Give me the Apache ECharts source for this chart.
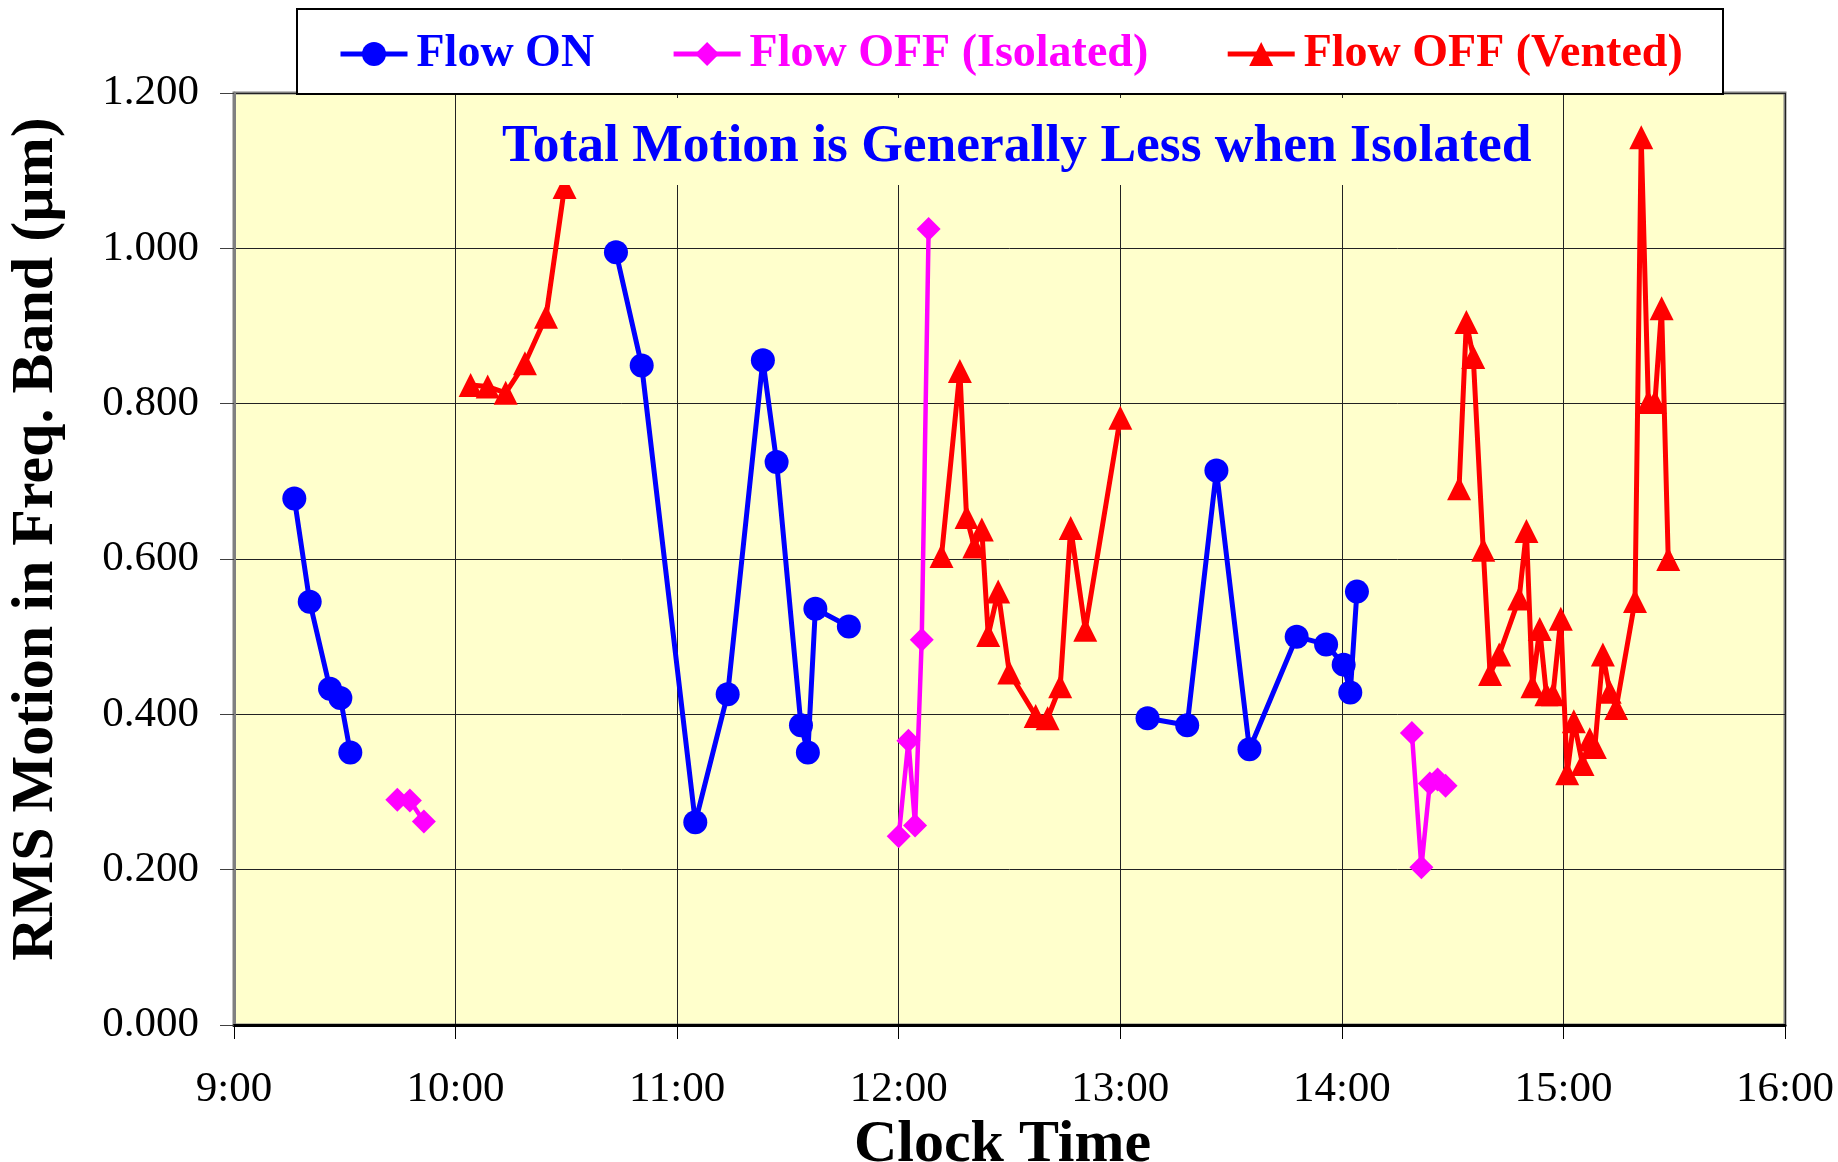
<!DOCTYPE html>
<html>
<head>
<meta charset="utf-8">
<script src="https://cdn.jsdelivr.net/npm/echarts@6/dist/echarts.min.js"></script>
<style>
html,body{margin:0;padding:0;background:#fff;}
#chart{width:1838px;height:1162px;}
</style>
</head>
<body>
<div id="chart"></div>
<script>
// ---- DATA (null marks a break in the line) ----
const xTickLabels = ['9:00','10:00','11:00','12:00','13:00','14:00','15:00','16:00'];
const yTickLabels = ['0.000','0.200','0.400','0.600','0.800','1.000','1.200'];

const flowOnTimes = ['9:16:20','9:20:30','9:26:00','9:28:48','9:31:30', null,
  '10:43:26','10:50:24','11:04:55','11:13:41','11:23:13','11:26:56','11:33:32','11:35:24','11:37:26','11:46:30', null,
  '13:07:23','13:18:07','13:26:02','13:34:59','13:47:46','13:55:44','14:00:29','14:02:17','14:04:05'];
const flowOnValues = [0.678,0.545,0.433,0.421,0.351, null,
  0.995,0.849,0.261,0.426,0.856,0.725,0.386,0.351,0.536,0.513, null,
  0.395,0.386,0.714,0.355,0.500,0.490,0.464,0.428,0.558];

const isolatedTimes = ['9:44:13','9:47:38','9:51:25', null,
  '12:00:00','12:02:38','12:04:26','12:06:14','12:08:06', null,
  '14:18:58','14:21:32','14:23:49','14:25:55','14:28:05'];
const isolatedValues = [0.290,0.289,0.262, null,
  0.243,0.366,0.257,0.496,1.025, null,
  0.376,0.203,0.311,0.316,0.308];

const ventedTimes = ['10:04:05','10:08:42','10:13:34','10:18:47','10:24:29','10:29:31', null,
  '12:11:35','12:16:34','12:18:22','12:20:28','12:22:30','12:24:14','12:26:56','12:29:56','12:37:05','12:40:19','12:43:44','12:46:34','12:50:31','13:00:00', null,
  '14:31:44','14:33:43','14:35:35','14:38:17','14:40:08','14:42:36','14:48:00','14:49:59','14:51:36','14:53:35','14:55:23','14:57:11','14:59:17',
  '15:01:01','15:02:49','15:05:10','15:07:08','15:08:31','15:10:41','15:12:32','15:14:17','15:19:23','15:21:04','15:22:59','15:24:47','15:26:35','15:28:23'];
const ventedValues = [0.824,0.822,0.814,0.852,0.912,1.079, null,
  0.604,0.842,0.654,0.616,0.638,0.502,0.558,0.454,0.398,0.395,0.436,0.640,0.509,0.782, null,
  0.691,0.905,0.860,0.612,0.452,0.477,0.549,0.636,0.436,0.510,0.426,0.426,0.523,
  0.324,0.391,0.336,0.368,0.358,0.477,0.429,0.408,0.546,1.143,0.802,0.802,0.923,0.600];

// ---- helpers ----
function toHours(s){
  const p = s.split(':').map(Number);
  return p[0] + p[1]/60 + (p[2]||0)/3600;
}
function buildData(times, values){
  return times.map((t,i) => (t === null || values[i] === null) ? ['-','-'] : [toHours(t), values[i]]);
}
const FONT = "'Liberation Serif','Times New Roman',serif";

const chart = echarts.init(document.getElementById('chart'), null, {renderer:'canvas'});
const option = {
  animation: false,
  backgroundColor: '#ffffff',
  title: {
    text: 'Total Motion is Generally Less when Isolated',
    left: 490, top: 98,
    padding: [22, 12, 11, 12],
    backgroundColor: '#FFFFCC',
    z: 6,
    textStyle: {fontFamily: FONT, fontSize: 53.5, fontWeight: 'bold', color: '#0000FF'}
  },
  graphic: [{
    type: 'rect', z: 5,
    shape: {x: 297, y: 9, width: 1426, height: 85},
    style: {fill: '#ffffff', stroke: '#000000', lineWidth: 2}
  }],
  legend: {
    left: 338, top: 31, z: 7,
    padding: 0,
    itemGap: 77,
    itemWidth: 67, itemHeight: 30,
    lineStyle: {width: 5},
    textStyle: {fontFamily: FONT, fontSize: 46, fontWeight: 'bold', padding: [0,0,0,4]},
    data: ['Flow ON','Flow OFF (Isolated)','Flow OFF (Vented)']
  },
  grid: {
    left: 234, right: 53, top: 93, bottom: 137,
    outerBoundsMode: 'none',
    containLabel: false,
    show: true, backgroundColor: '#FFFFCC', borderColor: '#808080', borderWidth: 3
  },
  xAxis: {
    type: 'value', min: 9, max: 16, interval: 1,
    name: 'Clock Time', nameLocation: 'middle', nameGap: 65,
    nameTextStyle: {fontFamily: FONT, fontSize: 60, fontWeight: 'bold', color: '#000', padding: [0,14,0,0]},
    axisLine: {show: true, onZero: false, lineStyle: {color: '#000', width: 3}},
    axisTick: {show: true, inside: false, length: 14, lineStyle: {color: '#000', width: 1}},
    axisLabel: {margin: 43, fontFamily: FONT, fontSize: 43, color: '#000',
      formatter: v => xTickLabels[Math.round(v - 9)]},
    splitLine: {show: true, lineStyle: {color: '#222', width: 1}}
  },
  yAxis: {
    type: 'value', min: 0, max: 1.2, interval: 0.2,
    name: 'RMS Motion in Freq. Band (µm)', nameLocation: 'middle', nameGap: 168,
    nameTextStyle: {fontFamily: FONT, fontSize: 60, fontWeight: 'bold', color: '#000', padding: [0,0,0,40]},
    axisLine: {show: true, lineStyle: {color: '#808080', width: 3}},
    axisTick: {show: true, inside: false, length: 14, lineStyle: {color: '#404040', width: 1}},
    axisLabel: {margin: 35, fontFamily: FONT, fontSize: 43, color: '#000',
      formatter: v => yTickLabels[Math.round(v / 0.2)]},
    splitLine: {show: true, lineStyle: {color: '#222', width: 1}}
  },
  series: [
    {
      name: 'Flow ON', type: 'line', data: buildData(flowOnTimes, flowOnValues),
      symbol: 'circle', symbolSize: 24, connectNulls: false,
      itemStyle: {color: '#0000FF'}, lineStyle: {color: '#0000FF', width: 5}
    },
    {
      name: 'Flow OFF (Isolated)', type: 'line', data: buildData(isolatedTimes, isolatedValues),
      symbol: 'diamond', symbolSize: 24, connectNulls: false,
      itemStyle: {color: '#FF00FF'}, lineStyle: {color: '#FF00FF', width: 4.5}
    },
    {
      name: 'Flow OFF (Vented)', type: 'line', data: buildData(ventedTimes, ventedValues),
      symbol: 'triangle', symbolSize: 24, connectNulls: false,
      itemStyle: {color: '#FF0000'}, lineStyle: {color: '#FF0000', width: 5}
    }
  ]
};
// legend text colours match each series
option.legend.data = option.series.map(s => ({name: s.name, textStyle: {color: s.itemStyle.color}}));
chart.setOption(option);
</script>
</body>
</html>
